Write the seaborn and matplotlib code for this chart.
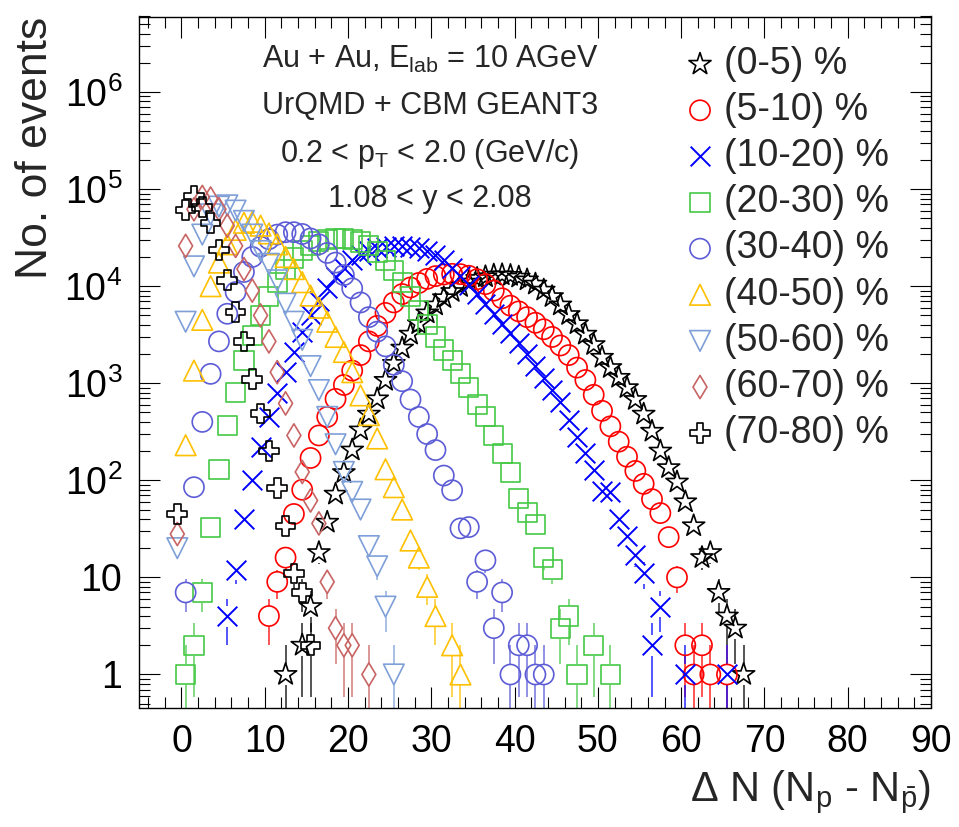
import numpy as np
import pandas as pd
import seaborn as sns
import matplotlib
matplotlib.use("Agg")
import matplotlib.pyplot as plt
from matplotlib.ticker import MultipleLocator, FixedLocator, LogLocator, NullFormatter

# centrality classes (legend order)
classes = ["(0-5) %", "(5-10) %", "(10-20) %", "(20-30) %", "(30-40) %",
           "(40-50) %", "(50-60) %", "(60-70) %", "(70-80) %"]

# first bin centre of Delta N (unit bins) and event counts per bin
start_0_5 = 12.5
counts_0_5 = [1, 0, 2, 5, 18, 37, 72, 120, 205, 330, 480, 690, 1070, 1600, 2300, 3200,
              4100, 5300, 6400, 7600, 8800, 9900, 11000, 12000, 12500, 13000, 13100,
              12900, 12400, 11600, 10500, 9100, 7800, 6400, 5100, 4100, 3200, 2500, 1850,
              1450, 1150, 900, 680, 480, 320, 200, 135, 96, 60, 34, 16, 18, 7, 4, 3, 1]

start_5_10 = 10.5
counts_5_10 = [4, 9, 16, 45, 80, 170, 290, 450, 690, 960, 1350, 1950, 2700, 3900, 5300,
               6800, 8300, 9700, 10800, 11900, 12700, 13200, 13400, 13300, 12800, 11800,
               10500, 9000, 7500, 6300, 5500, 4800, 4200, 3600, 3000, 2450, 1950, 1450,
               1080, 760, 520, 360, 250, 175, 125, 92, 64, 46, 26, 10, 2, 1, 2, 1, 0, 1]

start_10_20 = 5.5
counts_10_20 = [4, 12, 40, 100, 220, 450, 800, 1300, 2100, 3400, 5000, 7000, 9600, 12500,
                15500, 18500, 21000, 23000, 24500, 25500, 26000, 26000, 25500, 24500,
                23000, 21000, 18500, 15500, 12800, 10300, 8300, 6600, 5200, 4100, 3300,
                2600, 2000, 1500, 1120, 850, 640, 420, 280, 190, 128, 78, 75, 40, 27, 17,
                11, 2, 5, 0, 0, 1, 0, 0, 0, 0, 1]

start_20_30 = 0.5
counts_20_30 = [1, 2, 7, 33, 130, 370, 810, 1700, 3100, 5000, 7800, 11000, 15000, 19500,
                23500, 26500, 29000, 30500, 31000, 31000, 30000, 28500, 26000, 22500,
                18500, 14500, 11000, 7800, 5600, 4000, 3000, 2200, 1700, 1250, 900, 600,
                450, 290, 190, 120, 65, 47, 35, 16, 12, 3, 4, 1, 0, 2, 0, 1]

start_30_40 = 0.5
counts_30_40 = [7, 85, 400, 1250, 2700, 5200, 8700, 14000, 20000, 25500, 30500, 34000,
                36000, 36000, 34500, 31000, 27000, 22000, 17500, 13000, 9500, 6800, 4800,
                3400, 2400, 1550, 1050, 680, 450, 300, 205, 112, 79, 32, 33, 9, 15, 3, 7,
                1, 2, 2, 1, 1]

start_40_50 = 0.5
counts_40_50 = [230, 1350, 4500, 10000, 17500, 27000, 38000, 45000, 46000, 42000, 35000,
                27000, 20000, 15000, 11000, 8000, 6000, 4300, 3000, 2100, 1300, 750, 470,
                270, 130, 85, 50, 24, 16, 8, 4, 0, 2, 1]

start_50_60 = -0.5
counts_50_60 = [20, 4300, 16000, 34000, 55000, 66000, 68000, 60000, 47000, 34000, 23000,
                17000, 11500, 6600, 4300, 2800, 1500, 850, 450, 235, 122, 76, 50, 21, 13,
                5, 1]

start_60_70 = -0.5
counts_60_70 = [28, 26000, 62000, 83000, 80000, 62000, 42000, 26000, 15000, 9000, 5000,
                2700, 1300, 620, 290, 122, 62, 36, 9, 3, 2, 2, 0, 1]

start_70_80 = -0.5
counts_70_80 = [45, 61000, 85000, 65000, 45000, 23500, 11500, 5400, 2700, 1100, 490, 200,
                83, 34, 11, 7, 2]

starts = [start_0_5, start_5_10, start_10_20, start_20_30, start_30_40,
          start_40_50, start_50_60, start_60_70, start_70_80]
counts = [counts_0_5, counts_5_10, counts_10_20, counts_20_30, counts_30_40,
          counts_40_50, counts_50_60, counts_60_70, counts_70_80]

# ROOT-like marker styles
markers = ["*", "o", "x", "s", "o", "^", "v", "d", "P"]
colors = ["black", "#ff0000", "#0000ff", "#46c846", "#5c5cd6",
          "#ffc000", "#7f9fd8", "#c86464", "black"]
sizes = [280, 210, 200, 190, 210, 220, 220, 140, 200]

sns.set_style("ticks")
plt.rcParams["font.family"] = ["Liberation Sans", "DejaVu Sans"]
plt.rcParams["mathtext.default"] = "regular"

fig = plt.figure(figsize=(9.59, 8.27), dpi=100)
ax = fig.add_axes([139 / 959, 119.5 / 827, 792 / 959, 691 / 827])
ax.set_yscale("log")
ax.set_xlim(-5.1, 90)
ax.set_ylim(0.457, 6.0e6)

frames = []
for lab, x0, cnt in zip(classes, starts, counts):
    cnt = np.array(cnt, dtype=float)
    dn = x0 + np.arange(len(cnt))
    d = pd.DataFrame({"dn": dn, "events": cnt, "cls": lab})
    frames.append(d[d.events > 0])

# error bars (sqrt N), drawn outside the marker like ROOT does
gap_px = 10.5
for d, c in zip(frames, colors):
    x = d.dn.values
    y = d.events.values
    lo = np.clip(y - np.sqrt(y), 1e-3, None)
    hi = y + np.sqrt(y)
    pix = ax.transData.transform(np.column_stack([x, y]))
    below = ax.transData.inverted().transform(pix - [0, gap_px])[:, 1]
    above = ax.transData.inverted().transform(pix + [0, gap_px])[:, 1]
    m1 = lo < below
    m2 = hi > above
    ax.vlines(x[m1], lo[m1], below[m1], color=c, lw=1.1, alpha=0.85)
    ax.vlines(x[m2], above[m2], hi[m2], color=c, lw=1.1, alpha=0.85)

for d, lab, m, c, s in zip(frames, classes, markers, colors, sizes):
    if m == "x":
        sns.scatterplot(data=d, x="dn", y="events", marker=m, s=s, color=c,
                        linewidth=1.4, label=lab, ax=ax, zorder=3)
    else:
        sns.scatterplot(data=d, x="dn", y="events", marker=m, s=s, color=c,
                        facecolor="none", edgecolor=c, linewidth=1.2,
                        label=lab, ax=ax, zorder=3)

# axes styling
for sp in ax.spines.values():
    sp.set_linewidth(1.0)
    sp.set_color("black")
ax.xaxis.set_major_locator(MultipleLocator(10))
ax.xaxis.set_minor_locator(MultipleLocator(2))
ax.yaxis.set_major_locator(FixedLocator([1, 10, 1e2, 1e3, 1e4, 1e5, 1e6]))
ax.yaxis.set_minor_locator(LogLocator(base=10, subs=np.arange(2, 10), numticks=30))
ax.yaxis.set_minor_formatter(NullFormatter())
ax.set_yticklabels(["1", "10", "$10^{2}$", "$10^{3}$", "$10^{4}$", "$10^{5}$", "$10^{6}$"])
ax.tick_params(which="both", direction="in", top=True, right=True, width=0.8,
               colors="black")
ax.tick_params(which="major", length=15, labelsize=27, pad=12)
ax.tick_params(which="minor", length=8)

ax.set_xlabel("Δ N (N$_{p}$ - N$_{\\bar{p}}$)", fontsize=30, loc="right", labelpad=6)
ax.set_ylabel("No. of events", fontsize=32, loc="top", labelpad=6)

fig.text(430 / 959, 1 - 59 / 827, "Au + Au, E$_{lab}$ = 10 AGeV", fontsize=22,
         ha="center", va="center")
fig.text(430 / 959, 1 - 106 / 827, "UrQMD + CBM GEANT3", fontsize=22,
         ha="center", va="center")
fig.text(430 / 959, 1 - 154 / 827, "0.2 < p$_{T}$ < 2.0 (GeV/c)", fontsize=22,
         ha="center", va="center")
fig.text(430 / 959, 1 - 199 / 827, "1.08 < y < 2.08", fontsize=22,
         ha="center", va="center")

ax.legend(loc="upper left", bbox_to_anchor=(685 / 959, 1 - 46 / 827),
          bbox_transform=fig.transFigure, frameon=False, fontsize=27,
          handlelength=0.8, handletextpad=0.25, labelspacing=0.27, borderpad=0,
          borderaxespad=0, scatterpoints=1)

fig.savefig("out.png", dpi=100)
